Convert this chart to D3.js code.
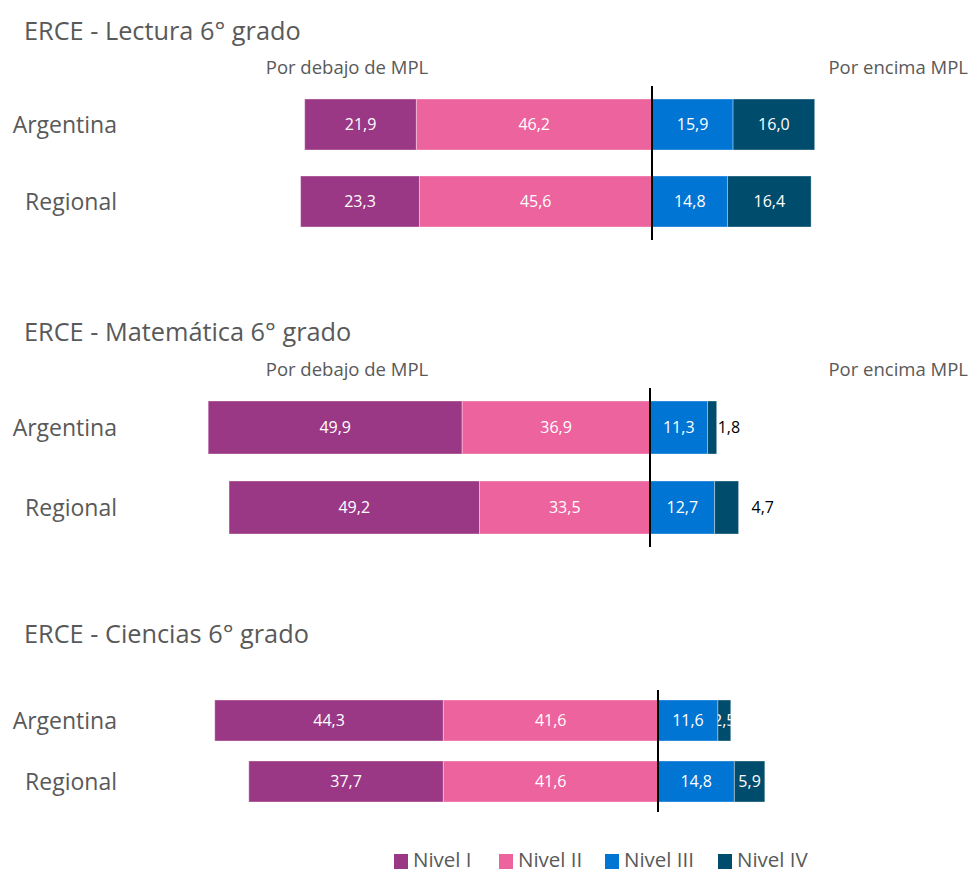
<!DOCTYPE html>
<html>
<head>
<meta charset="utf-8">
<script src="https://cdn.jsdelivr.net/npm/d3@7"></script>
<style>
  body { margin: 0; background: #fff; }
  text { font-family: 'Open Sans', sans-serif; }
</style>
</head>
<body>
<div id="chart"></div>
<script>
// data
const subjects = ['ERCE - Lectura 6° grado', 'ERCE - Matemática 6° grado', 'ERCE - Ciencias 6° grado']
const countries = ['Argentina', 'Regional']
const levels = ['Nivel I', 'Nivel II', 'Nivel III', 'Nivel IV']
// one array per level, rows = subject, cols = country
const nivel1 = [[21.9, 23.3], [49.9, 49.2], [44.3, 37.7]]
const nivel2 = [[46.2, 45.6], [36.9, 33.5], [41.6, 41.6]]
const nivel3 = [[15.9, 14.8], [11.3, 12.7], [11.6, 14.8]]
const nivel4 = [[16.0, 16.4], [1.8, 4.7], [2.5, 5.9]]
const belowLabel = 'Por debajo de MPL'
const aboveLabel = 'Por encima MPL'

const colors = ['#9b3885', '#ec639d', '#0075d4', '#004c6d']

// layout per panel
const panels = [
  { titleY: 40, mplY: 74, top: 99, bottom: 227, gap: 26, center: 652, k: 5.1, ext: 13 },
  { titleY: 341, mplY: 376, top: 401, bottom: 534, gap: 27, center: 650, k: 5.09, ext: 13 },
  { titleY: 643, mplY: null, top: 700, bottom: 802, gap: 20, center: 658, k: 5.16, ext: 10 }
]

const width = 972
const height = 873

const svg = d3.select('#chart')
  .append('svg')
  .attr('width', width)
  .attr('height', height)

const defs = svg.append('defs')
const fmt = v => d3.format('.1f')(v).replace('.', ',')

subjects.forEach((subject, i) => {
  const p = panels[i]
  const g = svg.append('g')

  const x = d3.scaleLinear()
    .domain([-100, 100])
    .range([p.center - 100 * p.k, p.center + 100 * p.k])

  const bw = (p.bottom - p.top - p.gap) / 2
  const y = d3.scaleBand()
    .domain(countries)
    .range([p.top, p.bottom])
    .paddingInner(p.gap / (p.gap + bw))
    .paddingOuter(0)

  g.append('text')
    .attr('x', 24)
    .attr('y', p.titleY)
    .attr('fill', '#595959')
    .attr('font-size', 25.3)
    .text(subject)

  if (p.mplY) {
    g.append('text')
      .attr('x', 347)
      .attr('y', p.mplY)
      .attr('text-anchor', 'middle')
      .attr('fill', '#595959')
      .attr('font-size', 18.5)
      .text(belowLabel)
    g.append('text')
      .attr('x', 968)
      .attr('y', p.mplY)
      .attr('text-anchor', 'end')
      .attr('fill', '#595959')
      .attr('font-size', 18.5)
      .text(aboveLabel)
  }

  countries.forEach((c, j) => {
    const vals = [nivel1[i][j], nivel2[i][j], nivel3[i][j], nivel4[i][j]]
    // segments: left side goes outward from center (II then I), right side III then IV
    const segs = [
      { lvl: 0, x0: -(vals[0] + vals[1]), x1: -vals[1] },
      { lvl: 1, x0: -vals[1], x1: 0 },
      { lvl: 2, x0: 0, x1: vals[2] },
      { lvl: 3, x0: vals[2], x1: vals[2] + vals[3] }
    ]
    segs.forEach(s => { s.v = vals[s.lvl] })

    const cy = y(c) + y.bandwidth() / 2

    g.append('text')
      .attr('x', 117)
      .attr('y', cy)
      .attr('dy', '0.35em')
      .attr('text-anchor', 'end')
      .attr('fill', '#595959')
      .attr('font-size', 23)
      .text(c)

    segs.forEach((s, si) => {
      const id = 'clip-' + i + '-' + j + '-' + si
      defs.append('clipPath').attr('id', id)
        .append('rect')
        .attr('x', x(s.x0))
        .attr('y', y(c))
        .attr('width', x(s.x1) - x(s.x0))
        .attr('height', y.bandwidth())

      g.append('rect')
        .attr('x', x(s.x0))
        .attr('y', y(c))
        .attr('width', x(s.x1) - x(s.x0))
        .attr('height', y.bandwidth())
        .attr('fill', colors[s.lvl])
        .attr('stroke', '#ffffff')
        .attr('stroke-opacity', 0.35)
        .attr('stroke-width', 1)

      // small Matemática level IV labels sit outside the bar
      if (i === 1 && s.lvl === 3) {
        g.append('text')
          .attr('x', x(s.x1) + (j === 0 ? 1 : 13))
          .attr('y', cy)
          .attr('dy', '0.35em')
          .attr('fill', '#000')
          .attr('font-size', 16)
          .text(fmt(s.v))
      } else {
        g.append('text')
          .attr('x', (x(s.x0) + x(s.x1)) / 2)
          .attr('y', cy)
          .attr('dy', '0.35em')
          .attr('text-anchor', 'middle')
          .attr('fill', '#fff')
          .attr('font-size', 16)
          .attr('clip-path', 'url(#' + id + ')')
          .text(fmt(s.v))
      }
    })
  })

  g.append('line')
    .attr('x1', x(0))
    .attr('x2', x(0))
    .attr('y1', p.top - p.ext)
    .attr('y2', p.bottom + p.ext)
    .attr('stroke', '#000')
    .attr('stroke-width', 2)
})

// legend
const legendX = [394, 499, 605, 718]
const legend = svg.append('g')
levels.forEach((l, i) => {
  legend.append('rect')
    .attr('x', legendX[i])
    .attr('y', 854)
    .attr('width', 14)
    .attr('height', 15)
    .attr('fill', colors[i])
  legend.append('text')
    .attr('x', legendX[i] + 19)
    .attr('y', 867)
    .attr('fill', '#595959')
    .attr('font-size', 20.5)
    .text(l)
})
</script>
</body>
</html>
